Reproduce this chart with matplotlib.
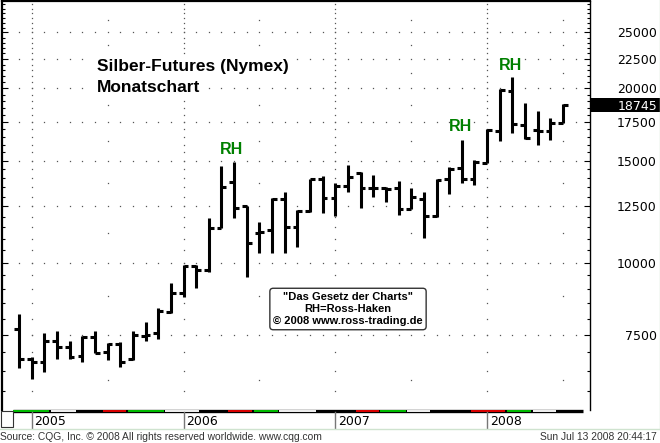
import numpy as np
import matplotlib
matplotlib.use("Agg")
import matplotlib.pyplot as plt
from matplotlib.ticker import FixedLocator, NullFormatter, FixedFormatter
from matplotlib.patches import Rectangle
from matplotlib.lines import Line2D
import matplotlib.transforms as mtransforms

# monthly bars, Dec 2004 (-1) .. Jul 2008 (42), month 0 = Jan 2005
months = np.arange(-1, 43)
opens = [7673, 6808, 6728, 7314, 7141, 6892, 7433, 7004, 7227, 6808, 7462, 7551,
         8212, 8857, 9862, 9706, 11472, 13783, 12524, 11247, 11383, 12880, 11519, 12277,
         13948, 12931, 13564, 14286, 13456, 13456, 13456, 12375, 12880, 12035, 13948, 14573,
         13948, 14864, 16886, 19804, 17297, 16953, 16886, 17435]
highs = [8145, 6864, 7551, 7612, 7314, 7462, 7612, 7256, 7285, 7612, 7888, 8345,
         9216, 9901, 9901, 11938, 14689, 14924, 12524, 11750, 12931, 13243, 12326, 13948,
         14115, 13728, 14748, 14343, 14172, 13511, 13837, 13456, 13243, 13948, 14631, 16293,
         15044, 17021, 19962, 20940, 18880, 18288, 17783, 18802]
lows = [6570, 6288, 6466, 6808, 6808, 6728, 6976, 6781, 6596, 6781, 7314, 7372,
        8178, 8717, 9034, 9629, 11472, 11938, 9439, 10386, 10386, 10386, 10637, 12228,
        12180, 12035, 13243, 12424, 12983, 12724, 12083, 12375, 11026, 11987, 13137, 13728,
        13618, 14864, 16229, 16753, 16359, 15971, 16293, 17435]
closes = [6808, 6728, 7314, 7141, 6864, 7433, 6976, 7227, 6728, 7492, 7492, 8244,
          8857, 9862, 9706, 11472, 13511, 12424, 10808, 11292, 12880, 11519, 12277, 13948,
          12931, 13564, 14060, 13456, 13456, 13403, 12375, 12983, 12035, 13892, 14500, 13948,
          14924, 16953, 19883, 17366, 16424, 16886, 17435, 18745]
last_price = 18745

year_months = [0, 12, 24, 36]
year_labels = ["2005", "2006", "2007", "2008"]
half_year_months = [6, 18, 30, 42]

major_levels = [7500, 10000, 12500, 15000, 17500, 20000, 22500, 25000]
major_labels = ["7500", "10000", "12500", "15000", "17500", "20000", "22500", "25000"]
minor_levels = list(range(5500, 28001, 500))
mid_levels = [6250, 8750, 11250, 13750, 16250, 18750, 21250, 23750, 26250]

# RH (Ross-Haken) marks
rh_months = [15.8, 33.86, 37.85]
rh_prices = [15660, 17190, 21960]

# coloured strip under the chart
strip_start = [-1.5, 1.45, 3.58, 5.56, 7.53, 10.5, 13.3, 15.5, 17.5, 19.5, 22.55, 25.6,
               27.5, 29.6, 31.5, 34.65, 37.5, 39.6, 41.5]
strip_end = [1.45, 3.58, 5.56, 7.53, 10.5, 13.3, 15.5, 17.5, 19.5, 22.55, 25.6, 27.5,
             29.6, 31.5, 34.65, 37.5, 39.55, 41.5, 43.6]
strip_color = ["#00c000", "#f4f4f4", "#000000", "#e00000", "#00c000", "#f4f4f4", "#000000",
               "#e00000", "#00c000", "#f4f4f4", "#000000", "#e00000", "#00c000", "#f4f4f4",
               "#000000", "#e00000", "#00c000", "#f4f4f4", "#000000"]

W, H = 660, 443
fig = plt.figure(figsize=(W / 100, H / 100), dpi=100)
fig.patch.set_facecolor("white")

ax = fig.add_axes([2 / W, (H - 410) / H, 588 / W, 409 / H])
ax.set_yscale("log")
ax.set_ylim(5557, 28340)
ax.set_xlim(-2.35, 44.13)

dot_c = "#555555"
# horizontal dotted grid, one dot per month
grid_x = np.arange(-1, 44)
for lvl in major_levels:
    ax.plot(grid_x, [lvl] * len(grid_x), ls="none", marker="s", ms=0.9, color=dot_c,
            mew=0, zorder=1)
# year lines: dots at every 500
for m in year_months:
    ax.plot([m] * len(minor_levels), minor_levels, ls="none", marker="s", ms=0.9,
            color=dot_c, mew=0, zorder=1)
# half-year lines: sparse dots
for m in half_year_months:
    ax.plot([m] * len(mid_levels), mid_levels, ls="none", marker="s", ms=0.9,
            color=dot_c, mew=0, zorder=1)

# OHLC bars
lw = 2.2
ax.vlines(months, lows, highs, color="black", lw=lw, zorder=3)
ax.hlines(opens, months - 0.38, months, color="black", lw=lw, zorder=3)
ax.hlines(closes, months, months + 0.38, color="black", lw=lw, zorder=3)

for m, p in zip(rh_months, rh_prices):
    ax.text(m, p, "RH", color="#008000", fontsize=11.5, fontweight="bold",
            family="Liberation Sans", ha="center", va="center", zorder=4)

# axes styling
for s in ["bottom"]:
    ax.spines[s].set_visible(False)
ax.spines["left"].set_linewidth(1.6)
ax.spines["top"].set_linewidth(1.6)
ax.spines["right"].set_linewidth(1.0)
ax.set_xticks([])
ax.yaxis.set_major_locator(FixedLocator(major_levels))
ax.yaxis.set_major_formatter(FixedFormatter(major_labels))
ax.yaxis.set_minor_locator(FixedLocator([v for v in minor_levels if v not in major_levels]))
ax.yaxis.set_minor_formatter(NullFormatter())
ax.tick_params(axis="y", which="both", direction="in", left=True, right=True,
               labelleft=False, labelright=True, width=0.8, color="black")
ax.tick_params(axis="y", which="major", length=4.5, pad=48, labelsize=9)
ax.tick_params(axis="y", which="minor", length=2.2)
for t in ax.get_yticklabels():
    t.set_ha("right")
    t.set_family("DejaVu Sans")

# last price box
bt = mtransforms.blended_transform_factory(ax.transAxes, ax.transData)
ax.add_patch(Rectangle((1.0, last_price / 1.0283), 70 / 588,
                       last_price * 1.0283 - last_price / 1.0283,
                       transform=bt, facecolor="black", edgecolor="none", clip_on=False,
                       zorder=5))
ax.text((657 - 2) / 588, last_price, f"{last_price}", transform=bt, color="white",
        fontsize=9, ha="right", va="center_baseline", clip_on=False, zorder=6)

# bottom strip
xt = ax.get_xaxis_transform()
ax.hlines(-0.0035, -1.5, 43.6, transform=xt, color="black", lw=2.4, clip_on=False)
for a, b, c in zip(strip_start, strip_end, strip_color):
    ax.hlines(-0.0035, a + 0.05, b - 0.05, transform=xt, color=c, lw=1.4, clip_on=False)

for m, lab in zip(year_months, year_labels):
    ax.plot([m, m], [-0.006, -0.044], transform=xt, color="#777777", lw=1.0,
            clip_on=False)
    ax.annotate(lab, xy=(m, 0), xycoords=xt, xytext=(2, -10.9),
                textcoords="offset points", fontsize=9, va="baseline", ha="left",
                family="DejaVu Sans", annotation_clip=False)

# title
fig.text(97 / W, 1 - 71 / H, "Silber-Futures (Nymex)", fontsize=12.5, fontweight="bold",
         family="Liberation Sans", va="baseline",
         bbox=dict(facecolor="white", edgecolor="none", pad=2))
fig.text(97 / W, 1 - 92 / H, "Monatschart", fontsize=12.5, fontweight="bold",
         family="Liberation Sans", va="baseline",
         bbox=dict(facecolor="white", edgecolor="none", pad=2))

# annotation box
fig.text(348 / W, 1 - 309 / H,
         "\"Das Gesetz der Charts\"\nRH=Ross-Haken\n\u00a9 2008 www.ross-trading.de",
         fontsize=8, fontweight="bold", family="Liberation Sans", ha="center",
         va="center", multialignment="center", linespacing=1.3, zorder=7,
         bbox=dict(boxstyle="round,pad=0.3", facecolor="white", edgecolor="#333333",
                   lw=1.0))

# frame, small box, footer
fig.add_artist(Line2D([0, 659.5 / W], [1 - 428.5 / H] * 2, color="#cfe3cf", lw=1))
fig.add_artist(Line2D([659.5 / W] * 2, [1 - 428.5 / H, 1], color="#cfe3cf", lw=1))
fig.add_artist(Rectangle((0.5 / W, 1 - 427 / H), 12 / W, 16 / H, transform=fig.transFigure,
                         fill=False, edgecolor="#333333", lw=0.8))
fig.text(0, 1 - 440 / H, "Source: CQG, Inc. \u00a9 2008 All rights reserved worldwide. www.cqg.com",
         fontsize=7.4, family="Liberation Sans", color="#333333", va="baseline")
fig.text(657 / W, 1 - 440 / H, "Sun Jul 13 2008 20:44:17", fontsize=7.4,
         family="Liberation Sans", color="#333333", va="baseline", ha="right")

fig.savefig("out.png", dpi=100)
